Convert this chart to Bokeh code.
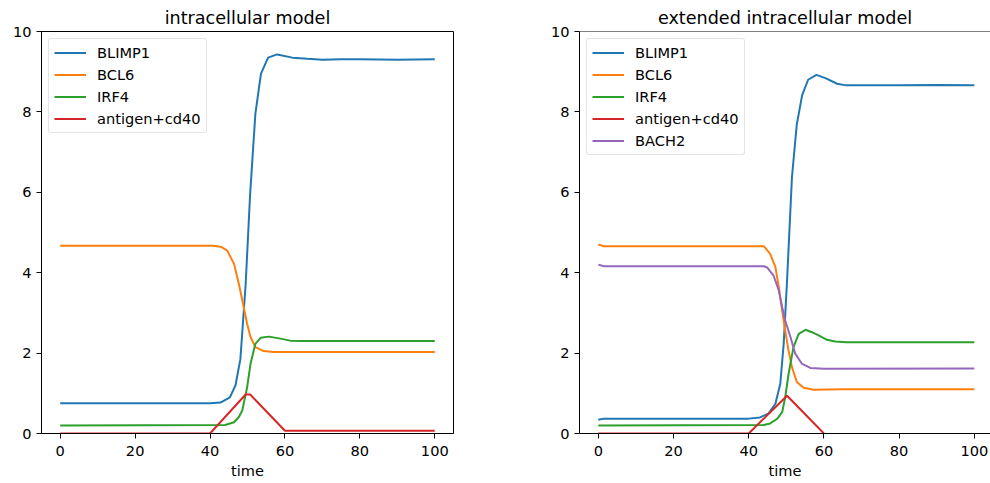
from bokeh.plotting import figure
from bokeh.layouts import row
from bokeh.models import Range1d, FixedTicker, Legend, LegendItem, Span
from bokeh.embed import file_html
from bokeh.resources import INLINE

# ---------------- data: left panel (intracellular model) ----------------
titles = ["intracellular model", "extended intracellular model"]
x_ticks = [0, 20, 40, 60, 80, 100]
y_ticks = [0, 2, 4, 6, 8, 10]

l_blimp1_t = [0, 40, 42.8, 45.3, 46.8, 48.1, 49.5, 50.7, 52.1, 53.6, 55.5, 57.9, 62, 66, 70, 75, 80, 90, 100]
l_blimp1_v = [0.75, 0.75, 0.77, 0.90, 1.20, 1.85, 3.70, 5.95, 7.95, 8.95, 9.35, 9.43, 9.35, 9.32, 9.30, 9.31, 9.31, 9.30, 9.31]

l_bcl6_t = [0, 41, 43, 44.6, 46.4, 47.7, 49, 49.9, 50.8, 52.1, 54.3, 57, 100]
l_bcl6_v = [4.67, 4.67, 4.64, 4.55, 4.22, 3.72, 3.14, 2.73, 2.40, 2.15, 2.05, 2.03, 2.03]

l_irf4_t = [0, 44, 46.4, 47.7, 48.6, 49.9, 50.8, 52.1, 53.5, 55.7, 58.8, 61.4, 65, 100]
l_irf4_v = [0.20, 0.21, 0.28, 0.41, 0.57, 1.15, 1.73, 2.23, 2.38, 2.41, 2.36, 2.31, 2.30, 2.30]

l_ag_t = [0, 40, 49.5, 50.7, 60, 100]
l_ag_v = [0, 0, 0.97, 0.97, 0.07, 0.07]

# ---------------- data: right panel (extended intracellular model) ----------------
r_blimp1_t = [0, 1.5, 40, 43, 45.3, 47.1, 48.4, 49.3, 50.2, 51.5, 52.8, 54.2, 55.8, 58, 60.4, 63.5, 66, 70, 80, 90, 100]
r_blimp1_v = [0.34, 0.37, 0.37, 0.40, 0.50, 0.74, 1.24, 2.23, 3.81, 6.38, 7.70, 8.41, 8.80, 8.92, 8.84, 8.70, 8.66, 8.66, 8.66, 8.67, 8.66]

r_bcl6_t = [0, 1.5, 44, 45.7, 47.1, 48, 48.9, 49.7, 50.6, 51.5, 52.8, 54.6, 57.3, 65, 100]
r_bcl6_v = [4.70, 4.66, 4.66, 4.47, 4.14, 3.64, 3.06, 2.56, 2.06, 1.65, 1.28, 1.14, 1.09, 1.10, 1.10]

r_irf4_t = [0, 44, 45.7, 47.5, 48.9, 49.7, 50.6, 51.9, 53.3, 55.1, 56.8, 58.6, 60.8, 63, 66, 100]
r_irf4_v = [0.20, 0.21, 0.25, 0.36, 0.53, 0.90, 1.48, 2.15, 2.48, 2.58, 2.52, 2.44, 2.33, 2.29, 2.27, 2.27]

r_ag_t = [0, 40, 50.2, 60]
r_ag_v = [0, 0, 0.94, 0]

r_bach2_t = [0, 1.5, 44, 44.9, 46.6, 48, 48.9, 49.7, 51.1, 52.4, 54.2, 56.4, 60, 100]
r_bach2_v = [4.20, 4.16, 4.16, 4.13, 3.93, 3.56, 3.14, 2.81, 2.40, 1.98, 1.73, 1.63, 1.61, 1.62]

names = ["BLIMP1", "BCL6", "IRF4", "antigen+cd40", "BACH2"]
colors = ["#1f77b4", "#ff7f0e", "#2ca02c", "#d62728", "#9467bd"]

FONT = "DejaVu Sans"
TICK_SIZE = "14.6px"


def make_fig(title, x_end, width, min_left, min_right, series):
    p = figure(output_backend="svg", toolbar_location=None,
               width=width, height=483,
               x_range=Range1d(-5, x_end), y_range=Range1d(0, 10),
               min_border_left=min_left, min_border_right=min_right,
               min_border_top=31, min_border_bottom=50,
               background_fill_color="white", border_fill_color="white")
    p.title.text = title
    p.title.align = "center"
    p.title.text_font = FONT
    p.title.text_font_size = "17.6px"
    p.title.text_font_style = "normal"
    p.title.text_color = "black"
    p.title.standoff = 7
    p.xgrid.visible = False
    p.ygrid.visible = False
    p.outline_line_color = "black"
    p.outline_line_width = 1
    for ax, ticks in ((p.xaxis[0], x_ticks), (p.yaxis[0], y_ticks)):
        ax.ticker = FixedTicker(ticks=ticks)
        ax.minor_tick_line_color = None
        ax.major_tick_in = 0
        ax.major_tick_out = 5
        ax.major_label_text_font = FONT
        ax.major_label_text_font_size = TICK_SIZE
        ax.major_label_text_color = "black"
        ax.axis_line_color = "black"
        ax.major_tick_line_color = "black"
    p.xaxis.major_label_standoff = 7
    p.yaxis.major_label_standoff = 5
    p.xaxis.axis_label = "time"
    p.xaxis.axis_label_text_font = FONT
    p.xaxis.axis_label_text_font_size = TICK_SIZE
    p.xaxis.axis_label_text_font_style = "normal"
    p.xaxis.axis_label_text_color = "black"
    p.xaxis.axis_label_standoff = 3

    items = []
    for (t, v), name, color in series:
        r = p.line(t, v, line_color=color, line_width=2)
        items.append(LegendItem(label=name, renderers=[r]))
    legend = Legend(items=items, location="top_left", margin=7, padding=5,
                    glyph_width=32, glyph_height=17, label_height=17, spacing=5,
                    label_standoff=11, label_text_font=FONT,
                    label_text_font_size=TICK_SIZE, label_text_color="black",
                    border_line_color="#cccccc", border_line_width=1,
                    background_fill_alpha=0.8)
    if "border_radius" in Legend.properties():
        legend.border_radius = 3
    p.add_layout(legend)
    return p


left_series = [((l_blimp1_t, l_blimp1_v), names[0], colors[0]),
               ((l_bcl6_t, l_bcl6_v), names[1], colors[1]),
               ((l_irf4_t, l_irf4_v), names[2], colors[2]),
               ((l_ag_t, l_ag_v), names[3], colors[3])]
right_series = [((r_blimp1_t, r_blimp1_v), names[0], colors[0]),
                ((r_bcl6_t, r_bcl6_v), names[1], colors[1]),
                ((r_irf4_t, r_irf4_v), names[2], colors[2]),
                ((r_ag_t, r_ag_v), names[3], colors[3]),
                ((r_bach2_t, r_bach2_v), names[4], colors[4])]

# left panel: frame 41..453 ; right panel: frame 579..990 (cut at window edge)
p1 = make_fig(titles[0], 105, 41 + 412 + 93, 41, 93, left_series)
p2 = make_fig(titles[1], 104.3, 33 + 411, 33, 0, right_series)
p2.outline_line_color = None
p2.add_layout(Span(location=10, dimension="width", line_color="black", line_width=1))

layout = row(p1, p2)
open("out.html", "w").write(file_html(layout, INLINE))
